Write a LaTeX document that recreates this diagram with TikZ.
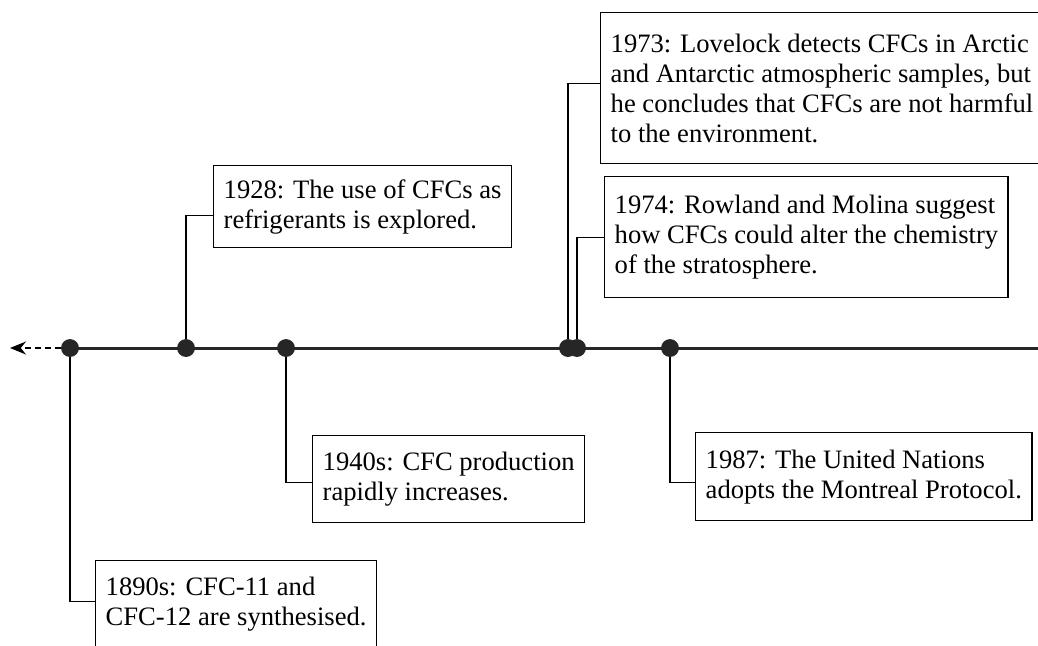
\documentclass[tikz,border=0pt]{standalone}
\usepackage{fontspec}
\setmainfont{Liberation Serif}
\usetikzlibrary{arrows.meta, positioning}

\begin{document}
\begin{tikzpicture}[x=0.5pt, y=-0.5pt, font=\fontsize{13.3}{15}\selectfont]
    \tikzstyle{event} = [draw, line width=0.7pt, rectangle, align=left, anchor=north west, inner xsep=5pt, inner ysep=5pt]
    \tikzstyle{dot} = [draw=black!85, circle, fill=black!85, inner sep=0pt, minimum size=8.5pt]
    \tikzstyle{link} = [draw, line width=0.7pt]
    \useasboundingbox (0,0) rectangle (1038,645);

    % Timeline dots
    \node[dot] (d1890) at (70,348) {};
    \node[dot] (d1928) at (186,348) {};
    \node[dot] (d1940) at (286,348) {};
    \node[dot] (d1973) at (568,348) {};
    \node[dot] (d1974) at (577,348) {};
    \node[dot] (d1987) at (670,348) {};
    \coordinate (past) at (10,348);
    \coordinate (now) at (1038,348);

    % Timeline
    \draw[line width=1.5pt, black!85] (d1890.center) -- (now);
    \draw[densely dashed, line width=0.8pt, -{Stealth[length=8pt, width=6.5pt]}] (d1890) -- (past);

    % Events above the line
    \node[event, minimum height=41pt] (e1928) at (213,165) {1928: The use of CFCs as\\refrigerants is explored.};
    \node[event, minimum height=75.5pt] (e1973) at (600,12) {1973: Lovelock detects CFCs in Arctic\\and Antarctic atmospheric samples, but\\he concludes that CFCs are not harmful\\to the environment.};
    \node[event, minimum height=60.5pt] (e1974) at (604,176) {1974: Rowland and Molina suggest\\how CFCs could alter the chemistry\\of the stratosphere.};

    % Events below the line
    \node[event, minimum height=43.5pt] (e1940) at (312,435) {1940s: CFC production\\rapidly increases.};
    \node[event, minimum height=44pt] (e1987) at (695,432) {1987: The United Nations\\adopts the Montreal Protocol.};
    \node[event, minimum height=43.5pt] (e1890) at (95,560) {1890s: CFC-11 and\\CFC-12 are synthesised.};

    % Links
    \draw[link] (d1928) |- ([yshift=-4.5pt]e1928.west);
    \draw[link] (d1973) |- ([yshift=2.5pt]e1973.west);
    \draw[link] (d1974) |- (e1974.west);
    \draw[link] (d1940) |- ([yshift=-1.5pt]e1940.west);
    \draw[link] (d1987) |- ([yshift=-3pt]e1987.west);
    \draw[link] (d1890) |- ([yshift=1.5pt]e1890.west);
\end{tikzpicture}
\end{document}
